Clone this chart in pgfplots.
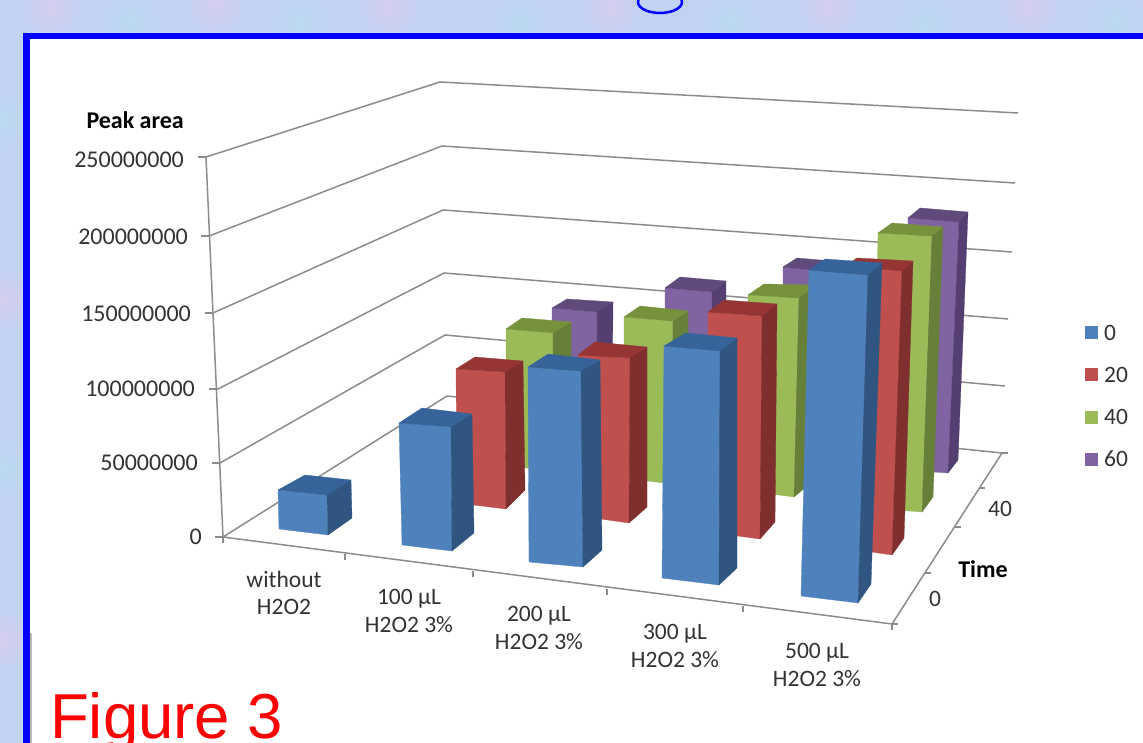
\documentclass[border=0pt]{standalone}
\usepackage{pgfplots}
\pgfplotsset{compat=1.18}
\usepackage{fontspec}
\setmainfont{Carlito}
\newfontfamily\figfont{Liberation Sans}

\definecolor{bg}{HTML}{C2D2F3}
\definecolor{bgpink}{HTML}{D6CDEF}
\definecolor{bgcyan}{HTML}{BADAF2}
\definecolor{gridc}{HTML}{8C8C8C}
\definecolor{tickc}{HTML}{333333}
\definecolor{blueF}{HTML}{4F81BD}\definecolor{blueS}{HTML}{2F5580}\definecolor{blueT}{HTML}{366399}
\definecolor{redF}{HTML}{C0504D}\definecolor{redS}{HTML}{7F2F2D}\definecolor{redT}{HTML}{963634}
\definecolor{greenF}{HTML}{9BBB59}\definecolor{greenS}{HTML}{66803A}\definecolor{greenT}{HTML}{76923C}
\definecolor{purpF}{HTML}{8064A2}\definecolor{purpS}{HTML}{553F72}\definecolor{purpT}{HTML}{604A7B}

% One column: front-left bottom, front-right bottom, front-right top, front-left top,
% back-left top, back-right top, back-right bottom (all in picture coordinates).
\newcommand{\column}[8]{%
  \addplot[draw=#1F,line width=0.3pt,fill=#1F] coordinates {#2 #3 #4 #5 #2};
  \addplot[draw=#1S,line width=0.3pt,fill=#1S] coordinates {#3 #4 #7 #8 #3};
  \addplot[draw=#1T,line width=0.3pt,fill=#1T] coordinates {#5 #4 #7 #6 #5};
}
\newcommand{\blotch}[3]{\shade[inner color=#3,outer color=bg] (axis cs:#1,#2) circle[radius=30pt];}
\newcommand{\glab}[3]{\node[font=\fontsize{23.5}{27.5}\selectfont,text=tickc,align=center,inner sep=0pt] at (axis cs:#1,#2) {#3};}
\newcommand{\rlab}[3]{\node[font=\fontsize{24}{27}\selectfont,text=tickc,anchor=east,inner sep=0pt] at (axis cs:#1,#2) {#3};}

\begin{document}
\begin{tikzpicture}
\path[use as bounding box,clip] (0,0) rectangle (1143pt,743pt);
\begin{axis}[
  at={(0pt,0pt)},anchor=south west,
  scale only axis,width=1143pt,height=743pt,
  xmin=0,xmax=1143,ymin=0,ymax=743,y dir=reverse,
  axis lines=none,
]
% slide background
\fill[bg] (axis cs:0,0) rectangle (axis cs:1143,743);
\blotch{50}{8}{bgpink}\blotch{130}{22}{bgcyan}\blotch{4}{120}{bgcyan}\blotch{4}{300}{bgpink}
\blotch{6}{470}{bgcyan}\blotch{4}{640}{bgpink}\blotch{215}{6}{bgpink}\blotch{300}{24}{bgcyan}
\blotch{390}{8}{bgpink}\blotch{520}{24}{bgcyan}\blotch{610}{8}{bgpink}\blotch{730}{22}{bgcyan}
\blotch{830}{8}{bgpink}\blotch{925}{24}{bgcyan}\blotch{1030}{8}{bgpink}\blotch{1115}{22}{bgcyan}

% tail of the slide title
\draw[blue,line width=2.5pt] (axis cs:660,2) ellipse[x radius=22pt,y radius=11pt];

% white panel and blue frame
\fill[white] (axis cs:30,39) rectangle (axis cs:1143,743);
\fill[blue] (axis cs:23,33) rectangle (axis cs:1143,39);
\fill[blue] (axis cs:23,33) rectangle (axis cs:30,743);
\fill[gridc,opacity=0.6] (axis cs:30,633) rectangle (axis cs:32,743);

% walls: value gridlines run front-left, back-left, back-right
\addplot[gridc,line width=1.5pt] coordinates {(206,157) (440,82) (1018,113)};
\addplot[gridc,line width=1.5pt] coordinates {(209,236) (442,146) (1015,183)};
\addplot[gridc,line width=1.5pt] coordinates {(213,313) (443,210) (1012,252)};
\addplot[gridc,line width=1.5pt] coordinates {(218,389) (444,273) (1008,319)};
\addplot[gridc,line width=1.5pt] coordinates {(220,463) (445,335) (1005,386)};
% floor outline and value axis
\addplot[gridc,line width=1.5pt] coordinates {(223,537) (447,396) (1002,453) (892,624) (223,537)};
\addplot[gridc,line width=1.5pt] coordinates {(206,157) (223,537)};
% ticks
\addplot[gridc,line width=1.4pt] coordinates {(198,157) (206,157)};
\addplot[gridc,line width=1.4pt] coordinates {(201,236) (209,236)};
\addplot[gridc,line width=1.4pt] coordinates {(205,313) (213,313)};
\addplot[gridc,line width=1.4pt] coordinates {(209,389) (218,389)};
\addplot[gridc,line width=1.4pt] coordinates {(212,463) (220,463)};
\addplot[gridc,line width=1.4pt] coordinates {(215,537) (223,537)};
\addplot[gridc,line width=1.4pt] coordinates {(223,537) (223,543)};
\addplot[gridc,line width=1.4pt] coordinates {(345,554) (345,560)};
\addplot[gridc,line width=1.4pt] coordinates {(473,571) (473,577)};
\addplot[gridc,line width=1.4pt] coordinates {(607,589) (607,595)};
\addplot[gridc,line width=1.4pt] coordinates {(743,606) (743,612)};
\addplot[gridc,line width=1.4pt] coordinates {(892,624) (892,630)};
\addplot[gridc,line width=1.4pt] coordinates {(892,624) (898,624)};
\addplot[gridc,line width=1.4pt] coordinates {(925,573) (931,573)};
\addplot[gridc,line width=1.4pt] coordinates {(954,527) (961,527)};
\addplot[gridc,line width=1.4pt] coordinates {(979,488) (985,488)};
\addplot[gridc,line width=1.4pt] coordinates {(1002,453) (1008,453)};

% rear row (60)
\column{purp}{(552,430)}{(597,436)}{(597,312)}{(552,308)}{(567,299)}{(613,302)}{(612,420)}
\column{purp}{(665,445)}{(712,450)}{(712,292)}{(665,288)}{(680,277)}{(726,281)}{(725,436)}
\column{purp}{(783,455)}{(830,460)}{(830,272)}{(783,267)}{(797,258)}{(843,262)}{(840,450)}
\column{purp}{(905,470)}{(948,473)}{(959,222)}{(908,218)}{(920,208)}{(968,212)}{(958,460)}
% row 40
\column{green}{(506,465)}{(553,472)}{(553,333)}{(506,329)}{(522,318)}{(571,322)}{(571,455)}
\column{green}{(624,478)}{(672,484)}{(673,321)}{(624,317)}{(640,306)}{(688,311)}{(688,470)}
\column{green}{(748,491)}{(794,497)}{(799,298)}{(748,295)}{(764,284)}{(815,285)}{(806,487)}
\column{green}{(873,508)}{(922,512)}{(932,236)}{(878,233)}{(892,223)}{(943,227)}{(933,497)}
% row 20
\column{red}{(457,503)}{(506,509)}{(505,372)}{(456,369)}{(475,357)}{(523,361)}{(525,490)}
\column{red}{(580,516)}{(629,523)}{(630,358)}{(578,355)}{(595,342)}{(647,347)}{(647,507)}
\column{red}{(708,532)}{(760,539)}{(762,316)}{(708,312)}{(724,300)}{(777,304)}{(775,522)}
\column{red}{(845,548)}{(892,555)}{(902,271)}{(845,266)}{(857,258)}{(913,261)}{(904,538)}
% front row (0)
\column{blue}{(279,529)}{(328,535)}{(327,495)}{(278,490)}{(305,475)}{(351,480)}{(352,518)}
\column{blue}{(402,545)}{(452,551)}{(451,427)}{(399,423)}{(422,408)}{(472,414)}{(474,533)}
\column{blue}{(529,562)}{(583,567)}{(581,371)}{(528,367)}{(548,354)}{(600,360)}{(602,550)}
\column{blue}{(662,578)}{(719,585)}{(720,351)}{(664,346)}{(686,333)}{(737,338)}{(737,568)}
\column{blue}{(801,596)}{(858,603)}{(868,275)}{(809,270)}{(825,259)}{(882,263)}{(871,584)}

% value axis
\node[font=\fontsize{24}{27}\selectfont\bfseries,anchor=east,inner sep=0pt] at (axis cs:184,120) {Peak area};
\rlab{184}{160}{250000000}
\rlab{188}{237}{200000000}
\rlab{191}{314}{150000000}
\rlab{195}{389}{100000000}
\rlab{198}{463}{50000000}
\rlab{202}{537}{0}

% category labels
\glab{284}{593}{without\\H2O2}
\glab{409}{611}{100 µL\\H2O2 3\%}
\glab{539}{628}{200 µL\\H2O2 3\%}
\glab{675}{646}{300 µL\\H2O2 3\%}
\glab{817}{665}{500 µL\\H2O2 3\%}

% depth axis
\glab{935}{599}{0}
\glab{1000}{509}{40}
\node[font=\fontsize{24}{27}\selectfont\bfseries,inner sep=0pt] at (axis cs:983,569) {Time};

% legend
\fill[blueF] (axis cs:1085,326) rectangle (axis cs:1098,339);
\fill[redF] (axis cs:1085,368) rectangle (axis cs:1098,381);
\fill[greenF] (axis cs:1085,411) rectangle (axis cs:1098,424);
\fill[purpF] (axis cs:1085,453) rectangle (axis cs:1098,466);
\node[font=\fontsize{23.5}{27}\selectfont,text=tickc,anchor=west,inner sep=0pt] at (axis cs:1104,333) {0};
\node[font=\fontsize{23.5}{27}\selectfont,text=tickc,anchor=west,inner sep=0pt] at (axis cs:1104,375) {20};
\node[font=\fontsize{23.5}{27}\selectfont,text=tickc,anchor=west,inner sep=0pt] at (axis cs:1104,417) {40};
\node[font=\fontsize{23.5}{27}\selectfont,text=tickc,anchor=west,inner sep=0pt] at (axis cs:1104,459) {60};

% caption
\node[font=\figfont\fontsize{63.5}{70}\selectfont,text=red,anchor=base west,inner sep=0pt] at (axis cs:50,738) {Figure 3};
\end{axis}
\end{tikzpicture}
\end{document}
